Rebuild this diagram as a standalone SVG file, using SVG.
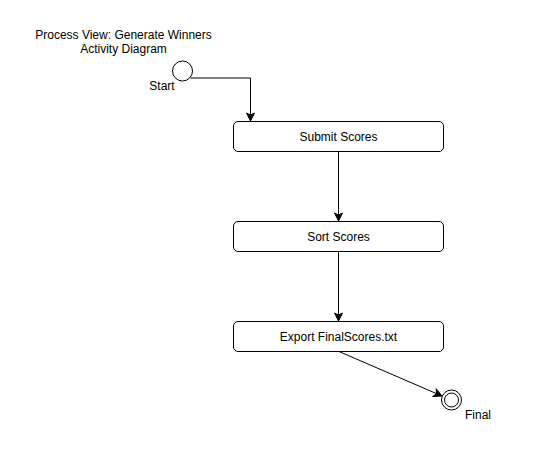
<svg xmlns="http://www.w3.org/2000/svg" width="555" height="455" viewBox="0 0 555 455">
<style>
.box{fill:#fff;stroke:#000;stroke-width:1}
.circ{fill:#fff;stroke:#000;stroke-width:1}
.edge{fill:none;stroke:#000;stroke-width:1}
text{font-family:"Liberation Sans",Arial,sans-serif;font-size:12px;fill:#000}
.c{text-anchor:middle;dominant-baseline:central}
</style>
<defs>
<marker id="arr" markerWidth="10" markerHeight="10" refX="9" refY="5" orient="auto" markerUnits="userSpaceOnUse">
<path d="M1,1 L9,5 L1,9 L3,5 z" fill="#000" stroke="#000" stroke-width="1"/>
</marker>
</defs>
<rect width="555" height="455" fill="#fff"/>
<g id="title">
<text class="c" x="123.5" y="35">Process View: Generate Winners</text>
<text class="c" x="123.5" y="49">Activity Diagram</text>
</g>
<g id="connectors">
<path class="edge" d="M190.5,78 H250.5 V121" marker-end="url(#arr)"/>
<path class="edge" d="M338.5,151.5 V221" marker-end="url(#arr)"/>
<path class="edge" d="M338.5,251.5 V321" marker-end="url(#arr)"/>
<path class="edge" d="M339,351.5 L442,396" marker-end="url(#arr)"/>
</g>
<g id="start">
<circle class="circ" cx="182.5" cy="71" r="10"/>
<text class="c" x="162" y="86">Start</text>
</g>
<g id="submit">
<rect class="box" x="233.5" y="121.5" width="210" height="30" rx="4.5"/>
<text class="c" x="338.5" y="136.5">Submit Scores</text>
</g>
<g id="sort">
<rect class="box" x="233.5" y="221.5" width="210" height="30" rx="4.5"/>
<text class="c" x="338.5" y="236.5">Sort Scores</text>
</g>
<g id="export">
<rect class="box" x="233.5" y="321.5" width="210" height="30" rx="4.5"/>
<text class="c" x="338.5" y="336.5">Export FinalScores.txt</text>
</g>
<g id="final">
<circle class="circ" cx="451.5" cy="400" r="10"/>
<circle class="circ" cx="451.5" cy="400" r="7"/>
<text class="c" x="478" y="415">Final</text>
</g>
</svg>
